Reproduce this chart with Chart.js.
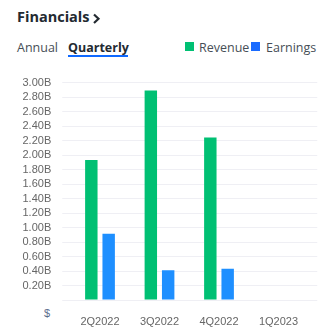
<!DOCTYPE html>
<html>
<head>
<meta charset="utf-8">
<script src="https://cdn.jsdelivr.net/npm/chart.js@4"></script>
<style>
  html, body { margin:0; padding:0; background:#fff; width:329px; height:329px; overflow:hidden; }
  body { position:relative; font-family:"Open Sans", sans-serif; }
  #c { position:absolute; left:0; top:0; }
  .abs { position:absolute; white-space:nowrap; }
  #title { left:17px; top:7px; font-size:14.5px; font-weight:700; color:#232a31; }
  #chev { left:0; top:0; }
  #annual { left:17px; top:39px; font-size:12.5px; color:#464e56; }
  #quarterly { left:68px; top:39px; font-size:12.5px; font-weight:700; color:#232a31; }
  #uline { left:68px; top:55px; width:60px; height:2px; background:#0f69ff; }
  .sw { position:absolute; width:9px; height:9px; top:42px; }
  .lg { position:absolute; top:38.5px; font-size:12.5px; color:#464e56; }
  #dollar { left:44px; top:307px; font-family:"Liberation Sans", Arial, sans-serif; font-size:11px; color:#5b6b8c; }
</style>
</head>
<body>
<div id="title" class="abs">Financials</div>
<svg id="chev" class="abs" width="110" height="30"><polyline points="94,14.5 98.5,18.8 94,23" fill="none" stroke="#232a31" stroke-width="2.2"/></svg>
<div id="annual" class="abs">Annual</div>
<div id="quarterly" class="abs">Quarterly</div>
<div id="uline" class="abs"></div>
<div id="legend"></div>
<div id="dollar" class="abs">$</div>
<canvas id="c" width="329" height="329"></canvas>
<script>
const categories = ['2Q2022', '3Q2022', '4Q2022', '1Q2023'];
const seriesNames = ['Revenue', 'Earnings'];
const revenue = [1.93, 2.89, 2.24, null];   // billions
const earnings = [0.915, 0.41, 0.43, null]; // billions
const barColors = ['#00c073', '#1e8fff'];
const legendColors = ['#00c073', '#1a6bff'];
const yMin = 0, yMax = 3.0, yStep = 0.2;

// legend (HTML)
const legend = document.getElementById('legend');
const legendPos = [{sw:185, tx:199}, {sw:251, tx:266}];
seriesNames.forEach((n, i) => {
  const s = document.createElement('div');
  s.className = 'sw'; s.style.left = legendPos[i].sw + 'px'; s.style.background = legendColors[i];
  legend.appendChild(s);
  const t = document.createElement('div');
  t.className = 'lg'; t.style.left = legendPos[i].tx + 'px'; t.textContent = n;
  legend.appendChild(t);
});

const gridColor = '#efeff4';
const tickFont = { family: '"Liberation Sans", Arial, sans-serif', size: 11 };

new Chart(document.getElementById('c'), {
  type: 'bar',
  data: {
    labels: categories,
    datasets: [
      { label: seriesNames[0], data: revenue, backgroundColor: barColors[0],
        categoryPercentage: 0.583, barPercentage: 0.717 },
      { label: seriesNames[1], data: earnings, backgroundColor: barColors[1],
        categoryPercentage: 0.583, barPercentage: 0.717 }
    ]
  },
  options: {
    responsive: false,
    animation: false,
    layout: { padding: { top: 82.5, left: 0, right: 0, bottom: 0 } },
    plugins: { legend: { display: false }, tooltip: { enabled: false } },
    scales: {
      x: {
        offset: true,
        grid: { display: false },
        border: { display: false },
        ticks: { color: '#666', font: tickFont, padding: 7 },
        afterFit: s => { s.height = 29; }
      },
      y: {
        position: 'left',
        min: yMin, max: yMax,
        grid: { color: gridColor, lineWidth: 1, tickLength: 8, drawTicks: true },
        border: { display: false },
        ticks: {
          stepSize: yStep, padding: 11, color: '#666', font: tickFont, autoSkip: false,
          callback: v => (Math.abs(v) < 1e-9 ? '' : v.toFixed(2) + 'B')
        },
        afterFit: s => { s.width = 70.25; }
      },
      y2: {
        position: 'right',
        min: yMin, max: yMax,
        grid: { color: gridColor, lineWidth: 1, tickLength: 9, drawOnChartArea: false, drawTicks: true },
        border: { display: false },
        ticks: { stepSize: yStep, display: false, autoSkip: false },
        afterFit: s => { s.width = 20.75; }
      }
    }
  }
});
</script>
</body>
</html>
